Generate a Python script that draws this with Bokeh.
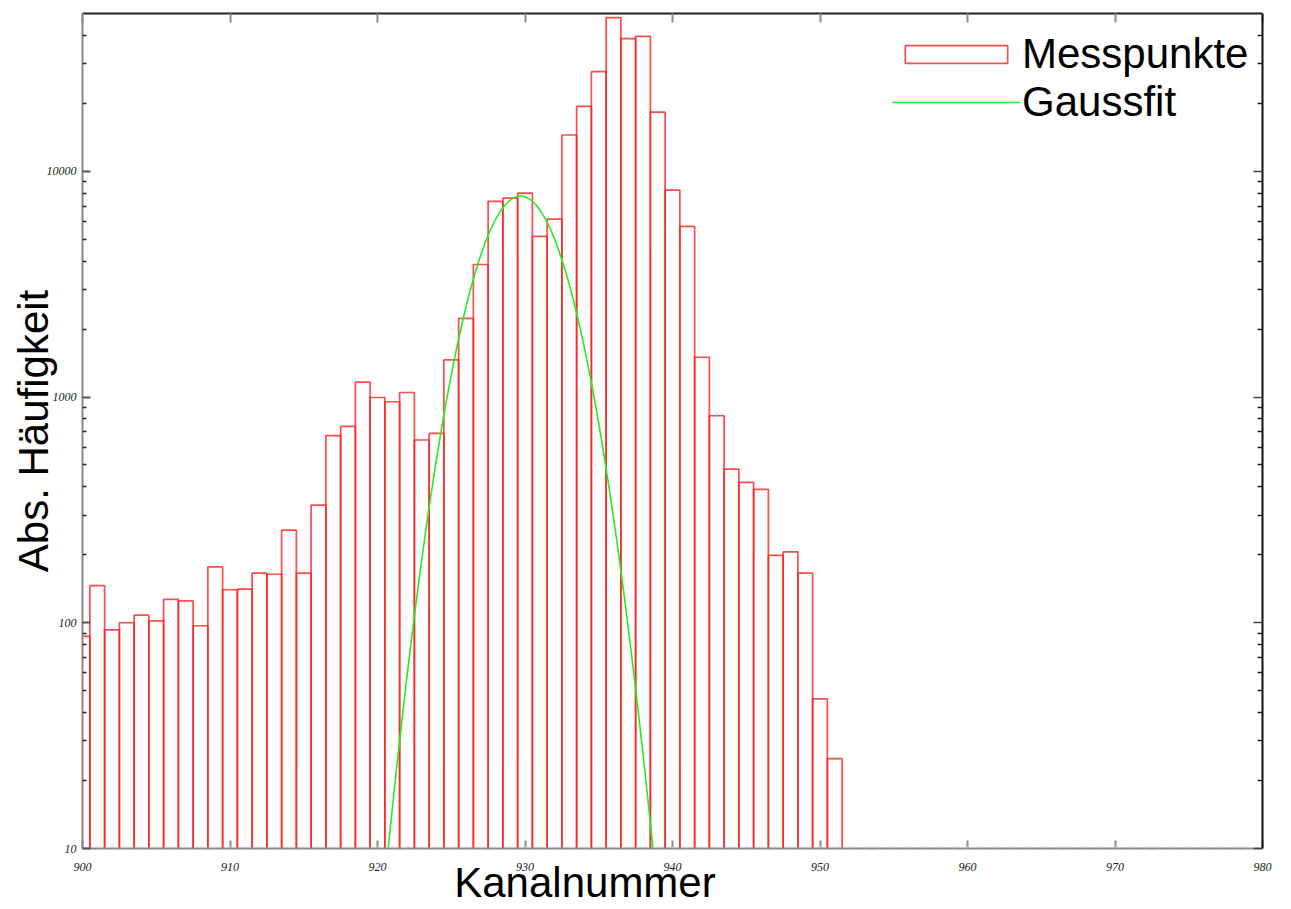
import numpy as np
from bokeh.plotting import figure
from bokeh.models import (Range1d, LinearAxis, LogAxis, FixedTicker, Legend, LegendItem,
                          CustomJSTickFormatter)
from bokeh.embed import file_html
from bokeh.resources import INLINE

# ---- data ----
channels = list(range(900, 952))
counts = [87, 146, 93, 100, 108, 102, 127, 125, 97, 177,
          140, 141, 166, 164, 257, 166, 332, 675, 741, 1164,
          995, 953, 1047, 645, 690, 1460, 2230, 3865, 7360, 7610,
          8000, 5150, 6140, 14480, 19400, 27660, 47960, 38700, 39600, 18300,
          8260, 5700, 1500, 826, 479, 419, 390, 199, 206, 166,
          46, 25]

# Gauss fit parameters
fit_amplitude = 7760.0
fit_center = 929.7
fit_sigma = 2.46

x_tick_values = [900, 910, 920, 930, 940, 950, 960, 970, 980]
x_tick_labels = ["900", "910", "920", "930", "940", "950", "960", "970", "980"]
y_tick_values = [10, 100, 1000, 10000]
y_tick_labels = ["10", "100", "1000", "10000"]

x_label = "Kanalnummer"
y_label = "Abs. Häufigkeit"
series_labels = ["Messpunkte", "Gaussfit"]

# ---- figure ----
p = figure(width=1290, height=908, output_backend="svg", toolbar_location=None,
           x_range=Range1d(900, 980), y_range=Range1d(10, 50000), y_axis_type="log",
           min_border_left=82, min_border_right=28, min_border_top=13, min_border_bottom=58,
           background_fill_color="white", border_fill_color="white")
p.outline_line_color = None
p.xgrid.visible = False
p.ygrid.visible = False

ch = np.array(channels, dtype=float)
bars = p.quad(left=ch - 0.5, right=ch + 0.5, bottom=1.0, top=counts,
              fill_color="white", fill_alpha=0.0, line_color="#ff2020",
              line_width=1.7, line_alpha=0.8)

xf = np.linspace(912, 948, 721)
yf = fit_amplitude * np.exp(-0.5 * ((xf - fit_center) / fit_sigma) ** 2)
yf = np.maximum(yf, 1e-3)
fit = p.line(xf, yf, line_color="#22ee22", line_width=1.6)

x_minor = list(range(900, 981))
y_minor = [m * 10 ** k for k in range(1, 5) for m in range(2, 10) if m * 10 ** k < 50000]
xt = FixedTicker(ticks=x_tick_values, minor_ticks=x_minor)
yt = FixedTicker(ticks=y_tick_values, minor_ticks=y_minor)

tick_font = "Liberation Serif"
tick_color = "#222222"

# bottom axis; the reference's label sits left of centre, so it is padded
# on the right with non-breaking spaces
xa = p.xaxis[0]
xa.ticker = xt
xa.major_label_overrides = {v: s for v, s in zip(x_tick_values, x_tick_labels)}
xa.axis_label = x_label + "\u00a0" * 15
xa.axis_label_text_font = "Liberation Sans"
xa.axis_label_text_font_size = "42px"
xa.axis_label_text_font_style = "normal"
xa.axis_label_text_color = "black"
xa.axis_label_standoff = -15
xa.major_label_text_font = tick_font
xa.major_label_text_font_style = "italic"
xa.major_label_text_font_size = "12px"
xa.major_label_text_color = tick_color
xa.major_label_standoff = 14
xa.axis_line_color = "#8a8a8a"
xa.axis_line_width = 2
xa.major_tick_in = 8
xa.major_tick_out = 0
xa.major_tick_line_color = "#8a8a8a"
xa.major_tick_line_width = 2
xa.minor_tick_in = 2
xa.minor_tick_out = 0
xa.minor_tick_line_color = "#c8c8c8"

# left axis
ya = p.yaxis[0]
ya.ticker = yt
ya.major_label_overrides = {v: s for v, s in zip(y_tick_values, y_tick_labels)}
ya.axis_label = y_label
ya.axis_label_text_font = "Liberation Sans"
ya.axis_label_text_font_size = "42px"
ya.axis_label_text_font_style = "normal"
ya.axis_label_text_color = "black"
ya.axis_label_standoff = -13
ya.major_label_text_font = tick_font
ya.major_label_text_font_style = "italic"
ya.major_label_text_font_size = "12px"
ya.major_label_text_color = tick_color
ya.major_label_standoff = 6
ya.axis_line_color = "#8a8a8a"
ya.axis_line_width = 2
ya.major_tick_in = 8
ya.major_tick_out = 0
ya.major_tick_line_color = "#555555"
ya.major_tick_line_width = 2
ya.minor_tick_in = 4
ya.minor_tick_out = 0
ya.minor_tick_line_color = "#222222"
ya.minor_tick_line_width = 1.5

blank = CustomJSTickFormatter(code="return ''")

# top axis (ticks only)
ta = LinearAxis(ticker=FixedTicker(ticks=x_tick_values, minor_ticks=x_minor), formatter=blank)
ta.major_label_standoff = 0
ta.axis_line_color = "#222222"
ta.axis_line_width = 2
ta.major_tick_in = 9
ta.major_tick_out = 0
ta.major_tick_line_color = "#8a8a8a"
ta.major_tick_line_width = 2
ta.minor_tick_in = 0
ta.minor_tick_out = 0
p.add_layout(ta, "above")

# right axis (ticks only)
ra = LogAxis(ticker=FixedTicker(ticks=y_tick_values, minor_ticks=y_minor), formatter=blank)
ra.major_label_standoff = 0
ra.axis_line_color = "#111111"
ra.axis_line_width = 2
ra.major_tick_in = 9
ra.major_tick_out = 0
ra.major_tick_line_color = "#444444"
ra.major_tick_line_width = 1.5
ra.minor_tick_in = 5
ra.minor_tick_out = 0
ra.minor_tick_line_color = "#222222"
ra.minor_tick_line_width = 1.5
p.add_layout(ra, "right")

legend = Legend(items=[LegendItem(label=series_labels[0], renderers=[bars]),
                       LegendItem(label=series_labels[1], renderers=[fit])],
                location=(810, 722))
legend.label_text_font = "Liberation Sans"
legend.label_text_font_size = "42px"
legend.label_text_color = "black"
legend.glyph_width = 128
legend.glyph_height = 22
legend.label_standoff = 2
legend.spacing = 0
legend.padding = 0
legend.margin = 0
legend.border_line_color = None
legend.background_fill_alpha = 0
p.add_layout(legend)

open("out.html", "w").write(file_html(p, INLINE))
